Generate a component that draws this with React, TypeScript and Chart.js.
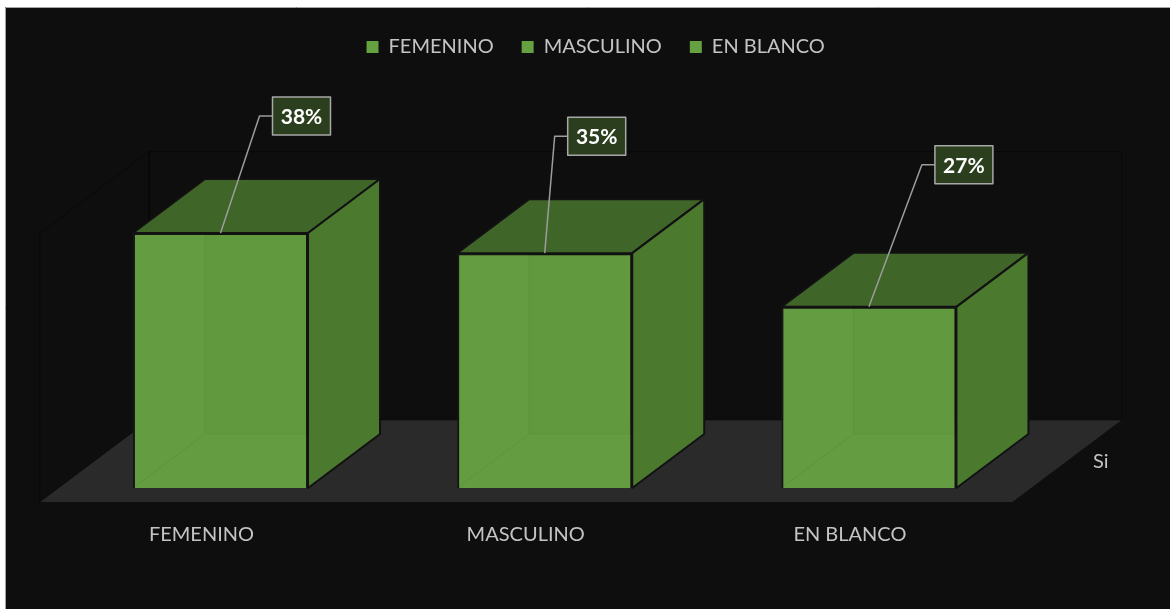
import React, { useEffect, useRef } from "react";
import { Chart, registerables } from "chart.js";

Chart.register(...registerables);

// ---------- data ----------
const CATEGORIES = ["FEMENINO", "MASCULINO", "EN BLANCO"];
const SERIES_NAME = "Si";
const VALUES = [38, 35, 27];
const VALUE_LABELS = ["38%", "35%", "27%"];
const Y_MIN = 0;
const Y_MAX = 40;

// callout placement: [box-left offset from bar centre, box-centre offset from bar top]
const CALLOUT_OFFSETS = [
  [52, -117],
  [23, -117],
  [66, -142],
];

// ---------- style / geometry ----------
const W = 1170;
const H = 609;
const FONT = "Lato, 'Open Sans', sans-serif";
const TEXT_COLOR = "#c4c4c4";
const FRONT = "#619a3e";
const TOP = "#3f6529";
const SIDE = "#4b7a2f";
const EDGE = "#121212";
const FLOOR = "#2b2a2b";
const LEGEND_BOX = "#65a041";
const RATIO = 72 / 54; // x shift per unit of depth (in y px)
const BAR_DEPTH = 54;
const GAP = 14;
const PAD_TOP = 9;
const CHART_TOP = 219.6;
const CHART_BOTTOM = 488;
const LEGEND_SHIFT = 51;

const proj = (x: number, y: number, d: number): [number, number] => [x + d * RATIO, y - d];

const poly = (ctx: CanvasRenderingContext2D, pts: [number, number][]) => {
  ctx.beginPath();
  pts.forEach((p, i) => (i === 0 ? ctx.moveTo(p[0], p[1]) : ctx.lineTo(p[0], p[1])));
  ctx.closePath();
};

const scenePlugin = {
  id: "scene3d",
  beforeLayout(chart: any) {
    const lg = chart.legend;
    if (lg && !lg.__patched) {
      const orig = lg.fit;
      lg.fit = function () {
        orig.call(this);
        this.height = CHART_TOP - PAD_TOP;
      };
      lg.__patched = true;
    }
  },
  afterLayout(chart: any) {
    const lg = chart.legend;
    if (lg) {
      lg.left += LEGEND_SHIFT;
      lg.right += LEGEND_SHIFT;
    }
  },
  beforeDraw(chart: any) {
    const ctx: CanvasRenderingContext2D = chart.ctx;
    ctx.save();
    ctx.fillStyle = "#ffffff";
    ctx.fillRect(0, 0, W, H);
    ctx.fillStyle = "#0e0e0e";
    ctx.fillRect(5, 7, W - 5, H - 7);
    ctx.strokeStyle = "#a3a3a3";
    ctx.lineWidth = 1;
    ctx.beginPath();
    ctx.moveTo(5.5, H);
    ctx.lineTo(5.5, 7.5);
    ctx.lineTo(W, 7.5);
    ctx.stroke();
    ctx.restore();
  },
  beforeDatasetsDraw(chart: any) {
    const ctx: CanvasRenderingContext2D = chart.ctx;
    const y = chart.scales.y;
    const { left, right } = chart.chartArea;
    const bottom = y.getPixelForValue(Y_MIN);
    const top = y.getPixelForValue(Y_MAX);
    const back = BAR_DEPTH + GAP;
    ctx.save();
    // floor
    poly(ctx, [proj(left, bottom, -GAP), proj(right, bottom, -GAP), proj(right, bottom, back), proj(left, bottom, back)]);
    ctx.fillStyle = FLOOR;
    ctx.fill();
    // walls (faint outlines)
    ctx.strokeStyle = "rgba(0,0,0,0.4)";
    ctx.lineWidth = 1;
    poly(ctx, [proj(left, bottom, -GAP), proj(left, top, -GAP), proj(left, top, back), proj(left, bottom, back)]);
    ctx.stroke();
    poly(ctx, [proj(left, bottom, back), proj(left, top, back), proj(right, top, back), proj(right, bottom, back)]);
    ctx.stroke();
    // series axis label
    const mid = proj(right, bottom, (back - GAP) / 2);
    ctx.fillStyle = TEXT_COLOR;
    ctx.font = `20px ${FONT}`;
    ctx.textAlign = "left";
    ctx.textBaseline = "middle";
    ctx.fillText(SERIES_NAME, mid[0] + 26, mid[1] + 1);
    ctx.restore();
  },
  afterDatasetsDraw(chart: any) {
    const ctx: CanvasRenderingContext2D = chart.ctx;
    const meta = chart.getDatasetMeta(0);
    ctx.save();
    meta.data.forEach((el: any) => {
      const { x, y, base, width } = el.getProps(["x", "y", "base", "width"], true);
      const l = x - width / 2;
      const r = x + width / 2;
      // faint interior (transparency hint)
      ctx.save();
      ctx.beginPath();
      ctx.rect(l, y, width, base - y);
      ctx.clip();
      ctx.fillStyle = "rgba(255,255,255,0.025)";
      poly(ctx, [[l, base], [r, base], proj(r, base, BAR_DEPTH), proj(l, base, BAR_DEPTH)]);
      ctx.fill();
      poly(ctx, [[l, y], [l, base], proj(l, base, BAR_DEPTH), proj(l, y, BAR_DEPTH)]);
      ctx.fill();
      ctx.strokeStyle = "rgba(0,0,0,0.05)";
      ctx.lineWidth = 1;
      ctx.beginPath();
      const b1 = proj(l, y, BAR_DEPTH);
      const b2 = proj(l, base, BAR_DEPTH);
      const b3 = proj(r, base, BAR_DEPTH);
      ctx.moveTo(b1[0], b1[1]);
      ctx.lineTo(b2[0], b2[1]);
      ctx.lineTo(b3[0], b3[1]);
      ctx.moveTo(l, base);
      ctx.lineTo(b2[0], b2[1]);
      ctx.stroke();
      ctx.restore();

      ctx.lineJoin = "round";
      ctx.strokeStyle = EDGE;
      ctx.lineWidth = 2;
      // top face
      poly(ctx, [[l, y], [r, y], proj(r, y, BAR_DEPTH), proj(l, y, BAR_DEPTH)]);
      ctx.fillStyle = TOP;
      ctx.fill();
      ctx.stroke();
      // side face
      poly(ctx, [[r, y], [r, base], proj(r, base, BAR_DEPTH), proj(r, y, BAR_DEPTH)]);
      ctx.fillStyle = SIDE;
      ctx.fill();
      ctx.stroke();
    });
    // callouts
    meta.data.forEach((el: any, i: number) => {
      const { x, y } = el.getProps(["x", "y"], true);
      const [ox, oy] = CALLOUT_OFFSETS[i];
      const bw = 58;
      const bh = 38;
      const bx = x + ox;
      const cy = y + oy;
      ctx.strokeStyle = "#9c9c9c";
      ctx.lineWidth = 1.5;
      ctx.beginPath();
      ctx.moveTo(bx, cy);
      ctx.lineTo(bx - 13, cy);
      ctx.lineTo(x, y);
      ctx.stroke();
      ctx.fillStyle = "#2b3f1f";
      ctx.fillRect(bx, cy - bh / 2, bw, bh);
      ctx.strokeStyle = "#a8a8a8";
      ctx.lineWidth = 1.5;
      ctx.strokeRect(bx, cy - bh / 2, bw, bh);
      ctx.fillStyle = "#ffffff";
      ctx.font = `bold 21px ${FONT}`;
      ctx.textAlign = "center";
      ctx.textBaseline = "middle";
      ctx.fillText(VALUE_LABELS[i], bx + bw / 2, cy + 1);
    });
    ctx.restore();
  },
};

export default function App() {
  const ref = useRef<HTMLCanvasElement | null>(null);
  useEffect(() => {
    if (!ref.current) return;
    const chart = new Chart(ref.current, {
      type: "bar",
      data: {
        labels: CATEGORIES,
        datasets: [
          {
            label: SERIES_NAME,
            data: VALUES,
            backgroundColor: FRONT,
            borderColor: EDGE,
            borderWidth: 2,
            categoryPercentage: 1,
            barPercentage: 0.54,
          },
        ],
      },
      options: {
        animation: false,
        responsive: false,
        devicePixelRatio: 1,
        layout: { padding: { top: PAD_TOP, left: 58.4, right: 139, bottom: 0 } },
        plugins: {
          tooltip: { enabled: false },
          legend: {
            display: true,
            position: "top",
            labels: {
              boxWidth: 12,
              boxHeight: 12,
              padding: 28,
              color: TEXT_COLOR,
              font: { family: FONT, size: 20 },
              generateLabels: () =>
                CATEGORIES.map((c, i) => ({
                  text: c,
                  fillStyle: LEGEND_BOX,
                  strokeStyle: LEGEND_BOX,
                  lineWidth: 0,
                  fontColor: TEXT_COLOR,
                  hidden: false,
                  index: i,
                  datasetIndex: 0,
                })),
            },
          },
        },
        scales: {
          x: {
            display: true,
            grid: { display: false, drawTicks: false },
            border: { display: false },
            ticks: {
              color: TEXT_COLOR,
              font: { family: FONT, size: 20 },
              padding: 35,
              labelOffset: -19,
              maxRotation: 0,
            },
            afterFit: (s: any) => {
              s.height = H - CHART_BOTTOM;
            },
          },
          y: {
            display: false,
            min: Y_MIN,
            max: Y_MAX,
          },
        },
      },
      plugins: [scenePlugin],
    });
    return () => chart.destroy();
  }, []);
  return (
    <div style={{ position: "fixed", left: 0, top: 0, width: W, height: H }}>
      <canvas ref={ref} width={W} height={H} style={{ display: "block", width: W, height: H }} />
    </div>
  );
}
